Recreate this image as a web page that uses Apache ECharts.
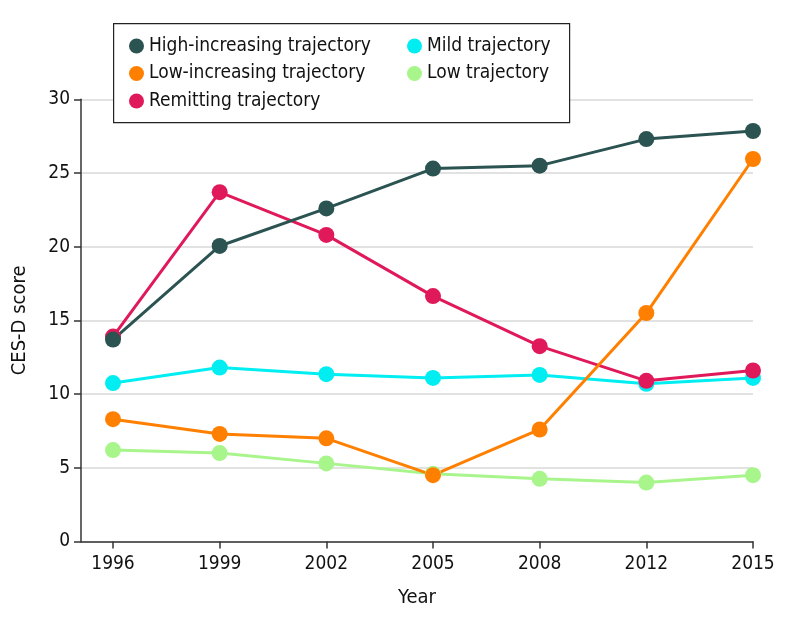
<!DOCTYPE html>
<html><head><meta charset="utf-8">
<script src="https://cdn.jsdelivr.net/npm/echarts@6/dist/echarts.min.js"></script>
<style>html,body{margin:0;padding:0;background:#fff}#c{width:794px;height:626px}</style>
</head><body><div id="c"></div>
<script>
const years = ['1996','1999','2002','2005','2008','2012','2015'];
const highIncreasing = [13.7, 20.05, 22.6, 25.3, 25.5, 27.3, 27.85];
const lowIncreasing = [8.3, 7.3, 7.0, 4.5, 7.6, 15.5, 25.95];
const remitting = [13.9, 23.7, 20.8, 16.65, 13.25, 10.9, 11.6];
const mild = [10.75, 11.8, 11.35, 11.1, 11.3, 10.7, 11.1];
const low = [6.2, 6.0, 5.3, 4.6, 4.25, 4.0, 4.5];
const yTicks = [0, 5, 10, 15, 20, 25, 30];

const FONT = '"DejaVu Sans Condensed", "DejaVu Sans", sans-serif';
const names = ['High-increasing trajectory','Low-increasing trajectory','Remitting trajectory','Mild trajectory','Low trajectory'];
const colors = {
  'High-increasing trajectory':'#2b5352',
  'Low-increasing trajectory':'#ff8000',
  'Remitting trajectory':'#e0195a',
  'Mild trajectory':'#00eef2',
  'Low trajectory':'#a8f58c'
};
const dataMap = {
  'High-increasing trajectory':highIncreasing,
  'Low-increasing trajectory':lowIncreasing,
  'Remitting trajectory':remitting,
  'Mild trajectory':mild,
  'Low trajectory':low
};
const drawOrder = ['Low trajectory','Mild trajectory','Remitting trajectory','Low-increasing trajectory','High-increasing trajectory'];
const idx = years.map((_, i) => i);

const chart = echarts.init(document.getElementById('c'));
const legendCommon = {
  orient:'vertical', itemWidth:15, itemHeight:15, itemGap:7.5, icon:'circle',
  textStyle:{fontFamily:FONT, fontSize:19, lineHeight:20, color:'#111'}, z:10, padding:0
};
chart.setOption({
  animation:false,
  grid:{left:81, right:41, top:99.3, bottom:84.5},
  graphic:[{type:'rect', left:113, top:23, z:5, shape:{width:456, height:99},
    style:{fill:'#fff', stroke:'#222', lineWidth:1.2}}],
  legend:[
    Object.assign({}, legendCommon, {left:129, top:36, data:names.slice(0,3)}),
    Object.assign({}, legendCommon, {left:407, top:36, data:names.slice(3)})
  ],
  xAxis:{
    type:'value', min:-0.3, max:6,
    name:'Year', nameLocation:'middle', nameGap:46,
    nameTextStyle:{fontFamily:FONT, fontSize:20, color:'#111'},
    axisLine:{show:true, onZero:false, lineStyle:{color:'#333', width:1.5}},
    axisTick:{show:true, length:7, lineStyle:{color:'#333', width:1.5}, customValues:idx},
    axisLabel:{customValues:idx, fontFamily:FONT, fontSize:19, color:'#111', margin:13,
      formatter:v => years[Math.round(v)]},
    splitLine:{show:false}
  },
  yAxis:{
    type:'value', min:0, max:30, interval:5,
    name:'CES-D score', nameLocation:'middle', nameGap:51,
    nameTextStyle:{fontFamily:FONT, fontSize:20, color:'#111'},
    axisLine:{show:true, onZero:false, lineStyle:{color:'#333', width:1.5}},
    axisTick:{show:true, length:7, lineStyle:{color:'#333', width:1.5}},
    axisLabel:{fontFamily:FONT, fontSize:19, color:'#111', margin:11,
      formatter:v => yTicks.includes(v) ? String(v) : ''},
    splitLine:{show:true, lineStyle:{color:'#d9d9d9', width:1.5}}
  },
  series: drawOrder.map(n => ({
    name:n, type:'line', symbol:'circle', symbolSize:16,
    itemStyle:{color:colors[n]}, lineStyle:{color:colors[n], width:3},
    data: dataMap[n].map((v,i)=>[i,v])
  }))
});
</script></body></html>
